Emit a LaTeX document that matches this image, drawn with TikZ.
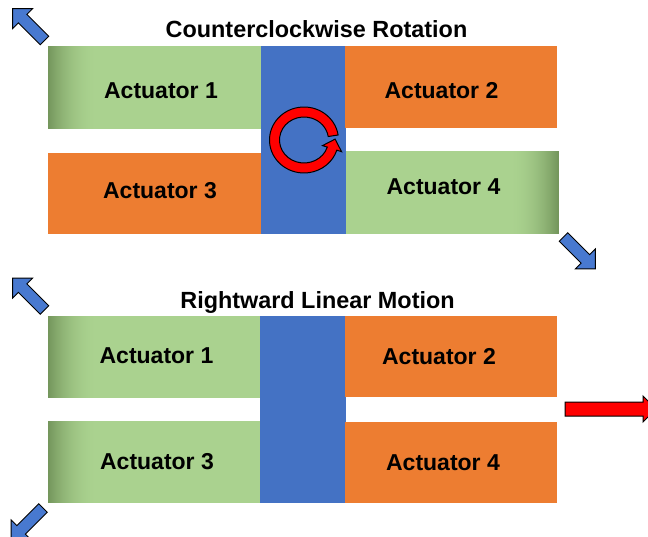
\documentclass[tikz,border=0pt]{standalone}
\usepackage{fontspec}
\setmainfont{Liberation Sans}
\definecolor{barblue}{RGB}{68,114,196}
\definecolor{arrowblue}{RGB}{72,121,208}
\definecolor{actorange}{RGB}{237,125,49}
\definecolor{glight}{RGB}{170,210,143}
\definecolor{gdark}{RGB}{116,150,92}
\definecolor{arrowred}{RGB}{255,0,0}
\begin{document}
\begin{tikzpicture}[x=1pt,y=-1pt,
  actlabel/.style={font=\fontsize{23}{27}\selectfont\bfseries, inner sep=0pt, anchor=base},
  titlelabel/.style={font=\fontsize{23.4}{28}\selectfont\bfseries, inner sep=0pt, anchor=base},
  orangebox/.style={fill=actorange},
  bar/.style={fill=barblue},
  blockarrow/.style={fill=arrowblue, draw=black, line width=0.9pt, line join=miter},
  redarrow/.style={fill=arrowred, draw=black, line width=1pt, line join=miter}]

\useasboundingbox (0,0) rectangle (648,536);

% green actuator, darkened along its left (#5=1) or right (#5=-1) edge,
% built from thin strips so the fade stays inside the box
\newcommand{\greenbox}[5]{%
  \fill[glight] (#1,#2) rectangle (#3,#4);
  \foreach \i in {0,...,49}{%
    \pgfmathsetmacro{\p}{100*(1-\i/50)^2}%
    \pgfmathsetmacro{\xa}{#5>0 ? #1+\i : #3-\i-1}%
    \fill[gdark!\p!glight] (\xa,#2) rectangle (\xa+1.1,#4);
  }}

% ---------------- counterclockwise rotation ----------------
\node[titlelabel] (titleccw) at (316.5,37.5) {Counterclockwise Rotation};

\greenbox{48}{46}{261}{129}{1}
\fill[bar] (261,46) rectangle (345.5,234);
\fill[orangebox] (345,46) rectangle (557,128);
\fill[orangebox] (48,153) rectangle (261,234);
\greenbox{346}{151}{559}{234}{-1}

\node[actlabel] (ccwa) at (161,98.3) {Actuator 1};
\node[actlabel] (ccwb) at (441.5,98.3) {Actuator 2};
\node[actlabel] (ccwc) at (160,198) {Actuator 3};
\node[actlabel] (ccwd) at (443.5,194.5) {Actuator 4};

% circular arrow on the shaft
\draw[redarrow] (338.1,135)
  arc[start angle=-8.7, end angle=-342, x radius=34.5, y radius=33]
  -- (341.6,151.7) -- (335.1,139.1) -- (322.5,145.6) -- (327.3,147.1)
  arc[start angle=18, end angle=351.3, x radius=24.5, y radius=23] -- cycle;

% corner push arrows
\draw[blockarrow, shift={(44.5,40.5)}, rotate=135]
  (0,-6) -- (31,-6) -- (31,-14) -- (45,0) -- (31,14) -- (31,6) -- (0,6) -- cycle;
\draw[blockarrow, shift={(563.5,237)}, rotate=-45]
  (0,-6) -- (31,-6) -- (31,-14) -- (45,0) -- (31,14) -- (31,6) -- (0,6) -- cycle;

% ---------------- rightward linear motion ----------------
\node[titlelabel] (titlelin) at (317.5,308) {Rightward Linear Motion};

\greenbox{48}{316}{260}{398}{1}
\greenbox{48}{421}{260}{503}{1}
\fill[bar] (260,316) rectangle (345.5,503);
\fill[orangebox] (345,316) rectangle (557,397);
\fill[orangebox] (345,422) rectangle (557,503);

\node[actlabel] (lina) at (156.5,363) {Actuator 1};
\node[actlabel] (linb) at (439,364) {Actuator 2};
\node[actlabel] (linc) at (157,469) {Actuator 3};
\node[actlabel] (lind) at (443,470) {Actuator 4};

\draw[blockarrow, shift={(44.5,310)}, rotate=135]
  (0,-6) -- (31,-6) -- (31,-14) -- (45,0) -- (31,14) -- (31,6) -- (0,6) -- cycle;
\draw[blockarrow, shift={(43,508)}, rotate=225]
  (0,-6) -- (31,-6) -- (31,-14) -- (45,0) -- (31,14) -- (31,6) -- (0,6) -- cycle;

% motion arrow
\draw[redarrow] (565,402) -- (643,402) -- (643,396) -- (656,409)
  -- (643,422) -- (643,416) -- (565,416) -- cycle;
\end{tikzpicture}
\end{document}
